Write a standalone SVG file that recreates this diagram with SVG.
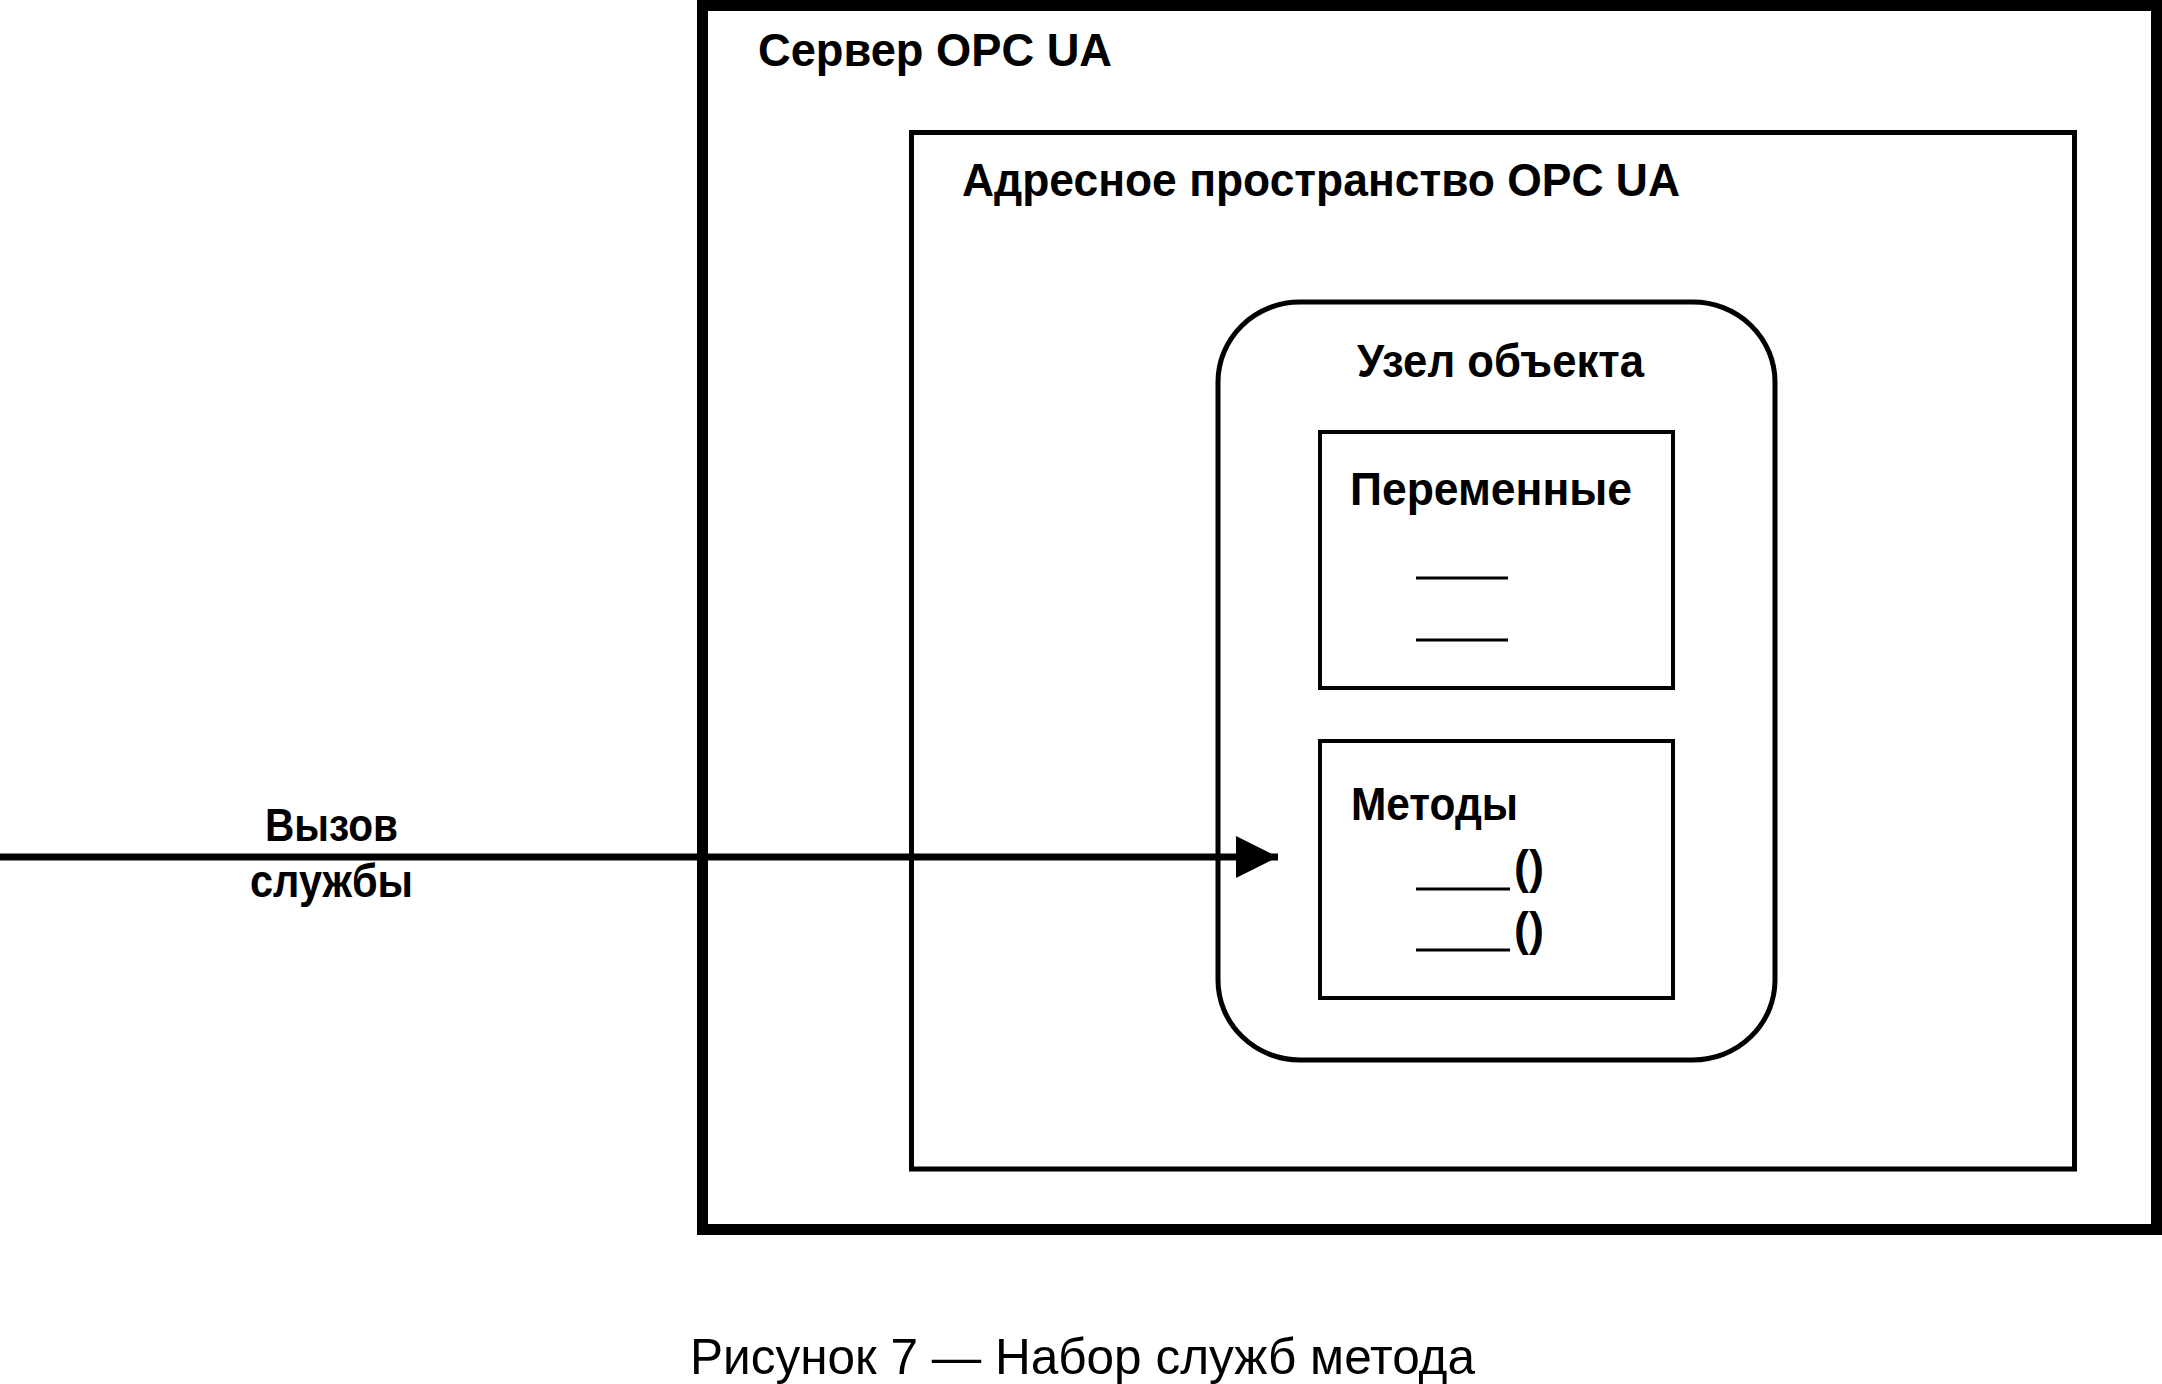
<svg xmlns="http://www.w3.org/2000/svg" width="2162" height="1384" viewBox="0 0 2162 1384">
<style>
.box{fill:none;stroke:#000}
.lbl{font-family:"Liberation Sans",Arial,sans-serif;font-size:47px;font-weight:bold;fill:#000}
.cap{font-family:"Liberation Sans",Arial,sans-serif;font-size:50px;fill:#000}
.blank{stroke:#000;stroke-width:3}
</style>
<defs>
<marker id="arrow" markerUnits="userSpaceOnUse" markerWidth="44" markerHeight="44" refX="42" refY="21" orient="auto">
<polygon points="0,0 42,21 0,42" fill="#000"/>
</marker>
</defs>
<rect width="2162" height="1384" fill="#fff"/>
<g id="server">
<rect class="box" x="702.5" y="5.5" width="1454" height="1224" stroke-width="11"/>
<text class="lbl" x="758" y="66" textLength="354" lengthAdjust="spacingAndGlyphs">Сервер OPC UA</text>
</g>
<g id="address-space">
<rect class="box" x="911.5" y="132.5" width="1163" height="1036.5" stroke-width="5"/>
<text class="lbl" x="962" y="196" textLength="718" lengthAdjust="spacingAndGlyphs">Адресное пространство OPC UA</text>
</g>
<g id="object-node">
<rect class="box" x="1218" y="302" width="557" height="758" rx="82" ry="80" stroke-width="5"/>
<text class="lbl" x="1357" y="377" textLength="287" lengthAdjust="spacingAndGlyphs">Узел объекта</text>
</g>
<g id="variables">
<rect class="box" x="1320" y="432" width="353" height="256" stroke-width="4"/>
<text class="lbl" x="1350" y="505" textLength="282" lengthAdjust="spacingAndGlyphs">Переменные</text>
<line class="blank" x1="1416" y1="578" x2="1508" y2="578"/>
<line class="blank" x1="1416" y1="640" x2="1508" y2="640"/>
</g>
<g id="methods">
<rect class="box" x="1320" y="741" width="353" height="257" stroke-width="4"/>
<text class="lbl" x="1351" y="820" textLength="167" lengthAdjust="spacingAndGlyphs">Методы</text>
<line class="blank" x1="1416" y1="889" x2="1510" y2="889"/>
<text class="lbl" x="1514" y="883" textLength="30" lengthAdjust="spacingAndGlyphs">()</text>
<line class="blank" x1="1416" y1="950" x2="1510" y2="950"/>
<text class="lbl" x="1514" y="945" textLength="30" lengthAdjust="spacingAndGlyphs">()</text>
</g>
<g id="connectors">
<line x1="0" y1="857" x2="1278" y2="857" stroke="#000" stroke-width="7" marker-end="url(#arrow)"/>
<text class="lbl" x="265" y="841" textLength="133" lengthAdjust="spacingAndGlyphs">Вызов</text>
<text class="lbl" x="250" y="897" textLength="163" lengthAdjust="spacingAndGlyphs">службы</text>
</g>
<text class="cap" x="690" y="1374" textLength="785" lengthAdjust="spacingAndGlyphs">Рисунок 7 — Набор служб метода</text>
</svg>
